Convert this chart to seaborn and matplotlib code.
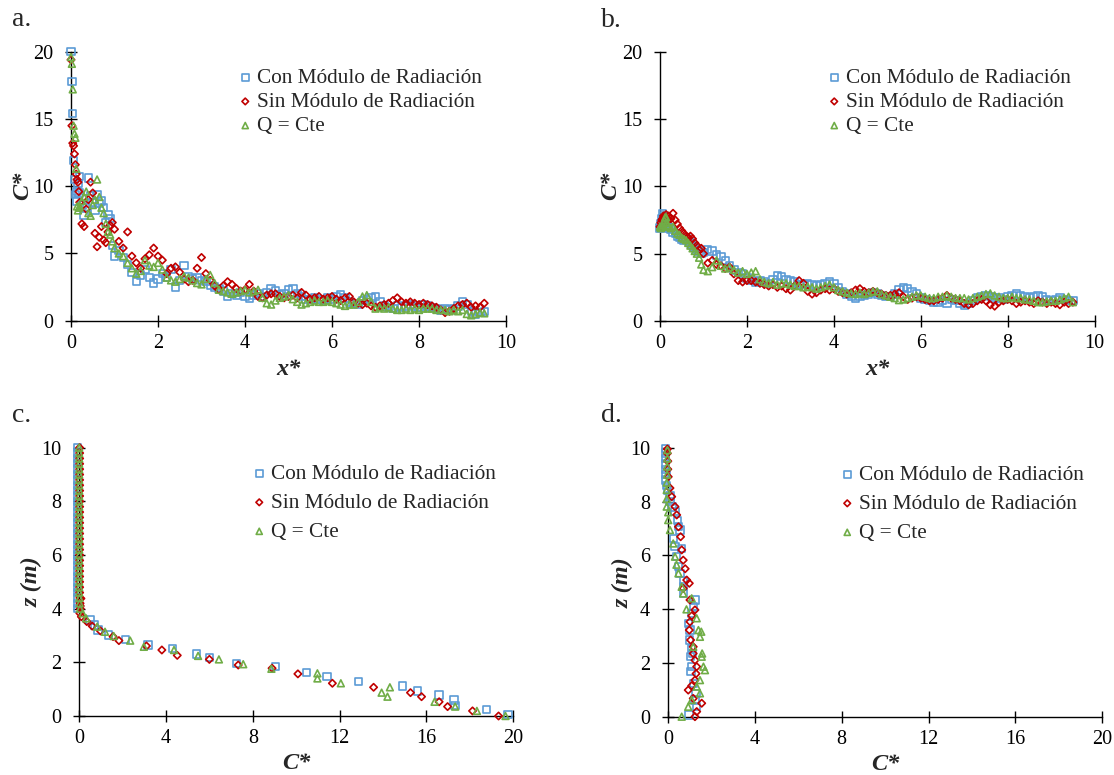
import matplotlib
matplotlib.use("Agg")
import matplotlib.pyplot as plt
import seaborn as sns

# ---------------- data ----------------
SERIES = ["Con Módulo de Radiación", "Sin Módulo de Radiación", "Q = Cte"]
COLORS = ["#5B9BD5", "#C00000", "#70AD47"]
MARKERS = ["s", "D", "^"]
MSIZES = [28, 14, 24]

XA = [0.00, 0.02, 0.04, 0.06, 0.08, 0.10, 0.12, 0.14, 0.16, 0.18, 0.20, 0.25, 0.30, 0.35,
      0.40, 0.45, 0.50, 0.55, 0.60, 0.65, 0.70, 0.75, 0.80, 0.85, 0.90, 0.95, 1.00,
      1.1, 1.2, 1.3, 1.4, 1.5, 1.6, 1.7, 1.8, 1.9, 2.0,
      2.1, 2.2, 2.3, 2.4, 2.5, 2.6, 2.7, 2.8, 2.9, 3.0,
      3.1, 3.2, 3.3, 3.4, 3.5, 3.6, 3.7, 3.8, 3.9, 4.0,
      4.1, 4.2, 4.3, 4.4, 4.5, 4.6, 4.7, 4.8, 4.9, 5.0,
      5.1, 5.2, 5.3, 5.4, 5.5, 5.6, 5.7, 5.8, 5.9, 6.0,
      6.1, 6.2, 6.3, 6.4, 6.5, 6.6, 6.7, 6.8, 6.9, 7.0,
      7.1, 7.2, 7.3, 7.4, 7.5, 7.6, 7.7, 7.8, 7.9, 8.0,
      8.1, 8.2, 8.3, 8.4, 8.5, 8.6, 8.7, 8.8, 8.9, 9.0,
      9.1, 9.2, 9.3, 9.4, 9.5]

# panel a: C* vs x*
A_CON = [20.0, 17.8, 15.4, 11.9, 10.5, 9.4, 8.9, 9.6, 10.2, 9.5, 10.7, 8.6, 7.8, 8.4,
         10.6, 9.3, 8.8, 8.2, 9.4, 8.7, 8.9, 8.4, 7.3, 7.9, 7.6, 5.6, 4.8,
         5.2, 4.7, 4.2, 3.6, 2.9, 3.4, 3.8, 3.2, 2.8, 3.1,
         3.5, 3.2, 3.8, 2.5, 3.0, 4.1, 3.3, 3.1, 3.2, 3.0,
         2.9, 2.6, 2.5, 2.4, 2.2, 1.8, 2.0, 1.9, 2.1, 1.8,
         1.7, 1.9, 2.0, 1.8, 2.1, 2.4, 2.2, 1.9, 2.0, 2.3,
         2.4, 2.0, 1.8, 1.6, 1.6, 1.7, 1.6, 1.5, 1.7, 1.6,
         1.8, 1.9, 1.7, 1.4, 1.3, 1.2, 1.5, 1.6, 1.7, 1.8,
         1.4, 1.1, 1.0, 0.9, 1.1, 1.0, 1.1, 1.2, 1.1, 1.0,
         1.2, 1.1, 1.0, 0.9, 0.8, 0.9, 0.8, 0.9, 1.1, 1.4,
         1.2, 0.7, 0.5, 0.6, 0.7]
A_SIN = [19.4, 14.5, 13.2, 13.0, 12.4, 11.6, 10.9, 10.5, 10.3, 9.6, 8.8, 7.2, 7.0, 8.3,
         9.0, 10.3, 9.5, 6.5, 5.5, 6.2, 7.0, 6.0, 5.8, 6.6, 7.1, 7.3, 6.8,
         5.9, 5.4, 6.6, 4.8, 4.3, 3.9, 4.6, 4.9, 5.4, 4.8,
         4.5, 3.5, 3.9, 4.0, 3.6, 3.1, 2.9, 3.0, 3.9, 4.7,
         3.5, 3.0, 2.6, 2.3, 2.6, 2.9, 2.7, 2.4, 2.2, 2.3,
         2.7, 2.2, 1.8, 1.7, 1.9, 2.0, 2.0, 1.8, 1.7, 1.8,
         1.9, 1.7, 2.1, 1.9, 1.6, 1.7, 1.8, 1.6, 1.7, 1.8,
         1.6, 1.5, 1.7, 1.8, 1.4, 1.3, 1.2, 1.3, 1.1, 1.0,
         1.1, 1.2, 1.3, 1.5, 1.7, 1.4, 1.3, 1.4, 1.3, 1.2,
         1.3, 1.2, 1.1, 1.0, 0.8, 0.6, 0.7, 0.9, 1.1, 1.2,
         1.3, 1.0, 1.1, 1.0, 1.3]
A_CTE = [19.6, 19.1, 17.2, 14.5, 13.9, 13.6, 11.3, 8.5, 8.2, 8.4, 8.5, 8.9, 9.2, 9.6,
         8.0, 7.8, 8.6, 9.0, 10.5, 9.2, 8.4, 8.0, 7.2, 6.6, 6.4, 5.9, 5.4,
         5.0, 4.8, 4.3, 3.9, 3.5, 3.7, 4.5, 4.1, 4.0, 4.3,
         3.8, 3.2, 3.0, 2.9, 3.1, 3.3, 3.2, 3.0, 2.8, 2.7,
         3.1, 3.4, 2.8, 2.3, 2.2, 2.1, 2.0, 2.1, 2.2, 2.3,
         2.1, 2.2, 2.3, 1.7, 1.3, 1.2, 1.5, 1.7, 1.8, 1.9,
         1.6, 1.4, 1.2, 1.3, 1.4, 1.5, 1.4, 1.4, 1.5, 1.4,
         1.3, 1.2, 1.1, 1.2, 1.2, 1.4, 1.8, 1.9, 1.4, 0.9,
         1.0, 0.9, 1.0, 0.9, 0.8, 0.8, 0.9, 0.8, 0.9, 0.8,
         0.9, 0.9, 0.9, 0.8, 0.8, 0.8, 0.7, 0.8, 0.7, 0.8,
         0.5, 0.4, 0.5, 0.6, 0.55]

# panel b: C* vs x*
B_CON = [6.9, 7.2, 7.6, 8.0, 7.8, 7.5, 7.2, 7.4, 7.1, 7.0, 6.9, 6.8, 6.6, 6.5,
         6.3, 6.2, 6.1, 6.0, 6.1, 5.9, 5.8, 5.6, 5.5, 5.3, 5.2, 5.0, 5.1,
         5.3, 5.2, 4.9, 4.8, 4.5, 4.1, 3.8, 3.6, 3.5, 3.2,
         3.0, 2.9, 3.0, 2.9, 2.8, 3.1, 3.4, 3.3, 3.1, 3.0,
         2.9, 2.7, 2.7, 2.8, 2.7, 2.6, 2.7, 2.8, 2.9, 2.8,
         2.5, 2.2, 2.0, 1.8, 1.7, 1.8, 1.9, 2.0, 2.1, 2.0,
         1.9, 1.8, 1.8, 2.0, 2.3, 2.5, 2.4, 2.2, 2.0, 1.7,
         1.6, 1.5, 1.4, 1.4, 1.5, 1.3, 1.6, 1.5, 1.3, 1.2,
         1.3, 1.5, 1.7, 1.8, 1.9, 1.8, 1.7, 1.7, 1.6, 1.8,
         1.9, 2.0, 1.9, 1.8, 1.7, 1.8, 1.9, 1.8, 1.6, 1.5,
         1.6, 1.7, 1.6, 1.5, 1.5]
B_SIN = [7.0, 7.3, 7.5, 7.6, 7.8, 7.5, 7.7, 7.9, 7.4, 7.6, 7.8, 7.6, 8.0, 7.5,
         7.2, 6.9, 6.7, 6.5, 6.3, 6.2, 6.3, 6.1, 5.8, 5.6, 5.3, 5.4, 5.0,
         4.3, 4.5, 4.2, 4.1, 3.9, 4.0, 3.5, 3.0, 2.9, 3.0,
         3.0, 2.9, 2.8, 2.7, 2.6, 2.7, 2.5, 2.6, 2.4, 2.3,
         2.6, 3.0, 2.8, 2.2, 2.0, 2.1, 2.3, 2.4, 2.3, 2.4,
         2.2, 2.1, 2.0, 2.1, 2.3, 2.4, 2.2, 2.1, 2.2, 2.1,
         2.0, 1.9, 1.9, 2.0, 2.1, 1.8, 1.6, 1.7, 1.8, 1.7,
         1.6, 1.5, 1.5, 1.6, 1.7, 1.9, 1.7, 1.6, 1.5, 1.3,
         1.2, 1.3, 1.5, 1.6, 1.5, 1.2, 1.1, 1.4, 1.5, 1.6,
         1.5, 1.3, 1.4, 1.5, 1.4, 1.3, 1.5, 1.4, 1.3, 1.4,
         1.3, 1.2, 1.4, 1.3, 1.4]
B_CTE = [7.0, 6.9, 7.0, 7.1, 7.3, 7.5, 7.7, 7.7, 7.3, 7.1, 7.0, 6.9, 7.0, 6.7,
         6.5, 6.4, 6.2, 6.1, 6.0, 5.8, 5.6, 5.4, 5.2, 5.0, 4.7, 4.2, 3.8,
         3.7, 4.0, 4.5, 4.1, 3.9, 4.0, 3.8, 3.6, 3.7, 3.5,
         3.6, 3.7, 3.1, 2.9, 2.8, 2.9, 2.7, 2.8, 2.8, 2.7,
         2.6, 2.6, 2.5, 2.55, 2.5, 2.4, 2.5, 2.6, 2.7, 2.5,
         2.3, 2.2, 2.1, 2.05, 2.0, 2.1, 2.0, 2.1, 2.2, 2.2,
         2.0, 1.9, 1.8, 1.7, 1.55, 1.6, 1.7, 1.8, 1.9, 1.9,
         1.8, 1.7, 1.7, 1.8, 1.8, 1.9, 1.8, 1.7, 1.7, 1.7,
         1.6, 1.7, 1.8, 1.9, 2.0, 2.05, 1.9, 1.8, 1.7, 1.7,
         1.8, 1.7, 1.7, 1.6, 1.6, 1.5, 1.4, 1.4, 1.45, 1.5,
         1.5, 1.6, 1.7, 1.8, 1.4]

# panel c: z (m) vs C*
ZC_COL = [4.0, 4.2, 4.4, 4.6, 4.8, 5.0, 5.2, 5.4, 5.6, 5.8, 6.0, 6.2, 6.4, 6.6, 6.8, 7.0,
          7.2, 7.4, 7.6, 7.8, 8.0, 8.2, 8.4, 8.6, 8.8, 9.0, 9.2, 9.4, 9.6, 9.8, 10.0]
C_CON_COL = [-0.06, -0.07, -0.08, -0.08, -0.08, -0.08, -0.08, -0.08, -0.08, -0.08, -0.08,
             -0.08, -0.08, -0.08, -0.08, -0.08, -0.08, -0.08, -0.08, -0.08, -0.08, -0.08,
             -0.08, -0.08, -0.08, -0.08, -0.08, -0.08, -0.08, -0.08, -0.08]
C_SIN_COL = [0.05, 0.04, 0.03, 0.02, 0.02, 0.02, 0.02, 0.02, 0.02, 0.02, 0.02,
             0.02, 0.02, 0.02, 0.02, 0.02, 0.02, 0.02, 0.02, 0.02, 0.02, 0.02,
             0.02, 0.02, 0.02, 0.02, 0.02, 0.02, 0.02, 0.02, 0.02]
C_CTE_COL = [0.04, 0.02, 0.01, 0.0, 0.0, 0.0, 0.0, 0.0, 0.0, 0.0, 0.0,
             0.0, 0.0, 0.0, 0.0, 0.0, 0.0, 0.0, 0.0, 0.0, 0.0, 0.0,
             0.0, 0.0, 0.0, 0.0, 0.0, 0.0, 0.0, 0.0, 0.0]

C_CON_C = [0.50, 0.71, 0.87, 1.35, 2.14, 3.17, 4.29, 5.40, 6.00, 7.24, 9.05, 10.48, 11.43,
           12.86, 14.89, 15.59, 16.59, 17.27, 17.33, 18.78, 19.76]
C_CON_Z = [3.58, 3.39, 3.20, 3.02, 2.86, 2.65, 2.52, 2.31, 2.17, 1.96, 1.84, 1.61, 1.47,
           1.28, 1.12, 0.93, 0.78, 0.60, 0.39, 0.25, 0.06]
C_SIN_C = [0.08, 0.05, 0.03, 0.10, 0.35, 0.60, 0.98, 1.56, 1.83, 3.10, 3.81, 4.52, 6.00,
           7.33, 8.89, 10.08, 11.67, 13.57, 15.27, 15.78, 16.59, 16.98, 18.13, 19.33]
C_SIN_Z = [4.38, 4.10, 3.83, 3.70, 3.52, 3.35, 3.17, 2.96, 2.81, 2.61, 2.46, 2.26, 2.11,
           1.90, 1.78, 1.57, 1.22, 1.07, 0.87, 0.72, 0.53, 0.35, 0.19, 0.00]
C_CTE_C = [0.16, 0.32, 0.83, 1.19, 1.59, 2.35, 2.98, 4.37, 5.48, 6.44, 7.56, 8.86, 10.98,
           10.98, 12.06, 14.32, 13.94, 14.21, 16.38, 17.33, 18.33, 19.65]
C_CTE_Z = [3.83, 3.64, 3.33, 3.14, 2.98, 2.81, 2.58, 2.46, 2.24, 2.11, 1.93, 1.76, 1.59,
           1.40, 1.22, 1.07, 0.87, 0.72, 0.53, 0.35, 0.19, 0.00]

# panel d: z (m) vs C*
D_CON_C = [-0.12, -0.10, -0.10, -0.12, -0.10, -0.08, -0.10, -0.05, 0.00, 0.10, 0.10, 0.20,
           0.33, 0.45, 0.49, 0.56, 0.25, 0.33, 0.64, 0.41, 0.49, 0.56, 0.71, 0.71, 0.71,
           1.25, 1.17, 1.10, 0.94, 1.02, 0.99, 1.10, 1.14, 1.05, 1.10, 1.06, 1.17, 1.30,
           1.25, 1.33, 0.98]
D_CON_Z = [9.98, 9.80, 9.60, 9.40, 9.20, 9.00, 8.80, 8.60, 8.43, 8.20, 8.00, 7.80,
           7.62, 7.30, 7.06, 6.94, 6.63, 6.32, 6.26, 5.95, 5.58, 5.33, 5.05, 4.83, 4.58,
           4.34, 4.09, 3.84, 3.47, 3.22, 2.85, 2.54, 2.35, 2.23, 1.86, 1.67, 1.24, 0.87,
           0.62, 0.37, 0.06]
D_SIN_C = [-0.02, -0.02, 0.00, 0.00, 0.02, 0.10, 0.18, 0.33, 0.41, 0.49, 0.59, 0.64,
           0.71, 0.80, 0.87, 0.99, 0.71, 1.02, 1.25, 1.10, 1.02, 0.99, 1.05, 1.17, 1.17,
           1.25, 1.33, 1.30, 1.25, 1.10, 0.94, 1.17, 1.56, 1.33, 1.25]
D_SIN_Z = [9.95, 9.79, 9.50, 9.20, 8.92, 8.50, 8.18, 7.81, 7.50, 7.06, 6.69, 6.20,
           5.82, 5.50, 5.08, 4.96, 4.77, 4.34, 3.97, 3.75, 3.53, 3.22, 2.85, 2.60, 2.35,
           2.10, 1.86, 1.60, 1.36, 1.15, 0.99, 0.68, 0.50, 0.19, 0.00]
D_CTE_C = [-0.02, -0.02, -0.03, -0.03, -0.05, -0.05, -0.05, -0.05, 0.02, 0.02, 0.10, 0.25,
           0.33, 0.40, 0.49, 0.64, 0.71, 1.10, 0.86, 1.33, 1.41, 1.54, 1.48, 1.17, 1.58,
           1.56, 1.64, 1.71, 1.48, 1.33, 1.48, 1.10, 0.94, 0.64]
D_CTE_Z = [9.91, 9.60, 9.30, 9.00, 8.70, 8.43, 8.10, 7.81, 7.60, 7.31, 6.94, 6.44,
           5.95, 5.65, 5.33, 4.83, 4.58, 4.40, 3.99, 3.66, 3.22, 3.16, 2.97, 2.60, 2.35,
           2.23, 1.86, 1.73, 1.36, 1.12, 0.87, 0.62, 0.37, 0.00]

# ---------------- style ----------------
sns.set_style("ticks")
plt.rcParams["font.family"] = ["Liberation Serif", "DejaVu Serif"]
plt.rcParams["axes.linewidth"] = 1.0

W, H = 1114, 775
fig = plt.figure(figsize=(W / 100, H / 100), dpi=100)


def px_axes(l, r, t, b):
    return fig.add_axes([l / W, 1 - b / H, (r - l) / W, (b - t) / H])


ax_a = px_axes(71.0, 506.0, 51.7, 320.7)
ax_b = px_axes(660.0, 1094.6, 51.7, 321.0)
ax_c = px_axes(79.2, 513.1, 447.7, 716.0)
ax_d = px_axes(667.8, 1102.4, 447.7, 716.7)


def draw(ax, xs, ys):
    for x, y, lab, col, mk, s in zip(xs, ys, SERIES, COLORS, MARKERS, MSIZES):
        sns.scatterplot(x=x, y=y, ax=ax, marker=mk, s=s, facecolor="none",
                        edgecolor=col, linewidth=1.2, label=lab, legend=False,
                        clip_on=False, zorder=3)


draw(ax_a, [XA, XA, XA], [A_CON, A_SIN, A_CTE])
draw(ax_b, [XA, XA, XA], [B_CON, B_SIN, B_CTE])
draw(ax_c, [C_CON_COL + C_CON_C, C_SIN_COL + C_SIN_C, C_CTE_COL + C_CTE_C],
     [ZC_COL + C_CON_Z, ZC_COL + C_SIN_Z, ZC_COL + C_CTE_Z])
draw(ax_d, [D_CON_C, D_SIN_C, D_CTE_C], [D_CON_Z, D_SIN_Z, D_CTE_Z])

label_font = dict(fontsize=17.5, fontweight="bold", fontstyle="italic")
for ax in (ax_a, ax_b, ax_c, ax_d):
    for side in ("top", "right"):
        ax.spines[side].set_visible(False)
    for side in ("left", "bottom"):
        ax.spines[side].set_color("black")
        ax.spines[side].set_linewidth(1.0)
    ax.tick_params(axis="both", direction="inout", length=8.4, width=1.0,
                   labelsize=14.5, colors="black")
    ax.tick_params(axis="x", pad=5.4)
    ax.tick_params(axis="y", pad=8.5)
    ax.set_facecolor("white")

for ax in (ax_a, ax_b):
    ax.set_xlim(0, 10)
    ax.set_ylim(0, 20)
    ax.set_xticks([0, 2, 4, 6, 8, 10])
    ax.set_yticks([0, 5, 10, 15, 20])
    ax.set_xlabel("x*", **label_font)
    ax.set_ylabel("C*", **label_font)
for ax in (ax_c, ax_d):
    ax.set_xlim(0, 20)
    ax.set_ylim(0, 10)
    ax.set_xticks([0, 4, 8, 12, 16, 20])
    ax.set_yticks([0, 2, 4, 6, 8, 10])
    ax.set_xlabel("C*", **label_font)
    ax.set_ylabel("z (m)", **label_font)

ax_a.yaxis.set_label_coords(-0.088, 0.5)
ax_b.yaxis.set_label_coords(-0.09, 0.5)
ax_c.yaxis.set_label_coords(-0.083, 0.5)
ax_d.yaxis.set_label_coords(-0.078, 0.5)
ax_a.xaxis.set_label_coords(0.5, -0.142)
ax_b.xaxis.set_label_coords(0.5, -0.142)
ax_c.xaxis.set_label_coords(0.5, -0.138)
ax_d.xaxis.set_label_coords(0.5, -0.138)

# legends
leg_specs = [(ax_a, 241.0, 68.0, 0.2), (ax_b, 830.0, 68.0, 0.2),
             (ax_c, 255.0, 464.0, 0.43), (ax_d, 843.0, 465.0, 0.43)]
for ax, lx, ty, sp in leg_specs:
    h, l = ax.get_legend_handles_labels()
    ax.legend(h, l, loc="upper left", bbox_to_anchor=(lx / W, 1 - ty / H),
              bbox_transform=fig.transFigure, frameon=False, borderpad=0,
              borderaxespad=0, handlelength=0.4, handletextpad=0.35,
              labelspacing=sp, fontsize=15.3, markerscale=0.9)

# panel letters
for txt, x, y in [("a.", 12, 25.7), ("b.", 600.6, 26.7), ("c.", 12, 421.7), ("d.", 600.6, 421.7)]:
    fig.text(x / W, 1 - y / H, txt, fontsize=20, ha="left", va="baseline")

fig.savefig("out.png", dpi=100, facecolor="white")
